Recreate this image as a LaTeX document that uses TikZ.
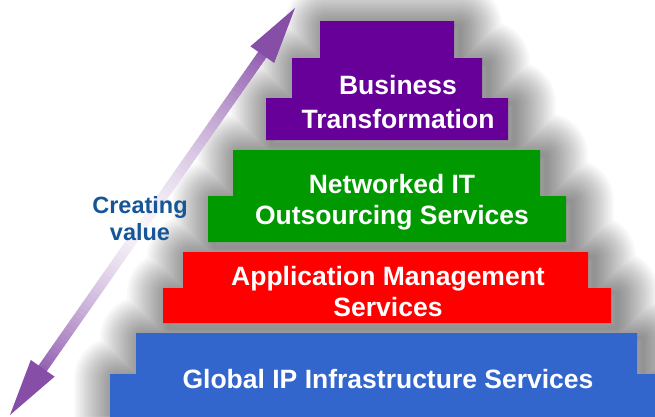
\documentclass[tikz,border=0pt]{standalone}
\usepackage{fontspec}
\setmainfont{Liberation Sans}
\definecolor{bizpurple}{RGB}{102,0,153}
\definecolor{netgreen}{RGB}{0,153,0}
\definecolor{appred}{RGB}{255,0,0}
\definecolor{ipblue}{RGB}{51,102,204}
\definecolor{valueblue}{RGB}{22,86,152}
\definecolor{arrowpurple}{RGB}{135,78,168}
% outline of all pyramid tiers, reused for the soft shadow
\newcommand\pyramidtiers{%
  (320,21) rectangle (454,58) (292,58) rectangle (482,98) (266,98) rectangle (508,140)
  (233,150) rectangle (540,196) (208,196) rectangle (566,242)
  (183,252) rectangle (588,288) (163,288) rectangle (611,323)
  (136,333) rectangle (637,374) (110,374) rectangle (670,420)}
\begin{document}
\begin{tikzpicture}[x=1pt,y=-1pt,
  blocktext/.style={text=white, font=\fontsize{26.5}{26.5}\selectfont\bfseries, anchor=base, inner sep=0pt},
  valuetext/.style={text=valueblue, font=\fontsize{23.5}{23.5}\selectfont\bfseries, anchor=base, inner sep=0pt},
  tier/.style={line join=miter}]
\useasboundingbox (0,0) rectangle (655,416);
\fill[white] (0,0) rectangle (655,416);

% soft shadow: stacked translucent strokes around the tiers
\foreach \w in {4,8,...,84} {
  \draw[black, opacity=0.024, line width=\w pt, line join=round, shift={(6,5)}] \pyramidtiers;
}

% double-headed "creating value" arrow, drawn along its own axis
\begin{scope}[shift={(10,415)}, rotate=55]
  \coordinate (lowtip) at (0,0);
  \coordinate (hightip) at (496.9,0);
  \foreach \i in {0,...,79} {
    \pgfmathsetmacro\sa{40+\i*5.2125}
    \pgfmathsetmacro\sb{\sa+5.8}
    \pgfmathsetmacro\sc{\sa+2.6}
    \pgfmathsetmacro\dd{abs(\sc-230)/ifthenelse(\sc>230,227,190)}
    \pgfmathsetmacro\pp{min(100,6+94*(\dd^1.4))}
    \fill[arrowpurple!\pp!white] (\sa,-5) rectangle (\sb,5);
  }
  \fill[arrowpurple] (lowtip) -- (57,14.5) -- (57,-14.5) -- cycle;
  \fill[arrowpurple] (hightip) -- (439.9,14.5) -- (439.9,-14.5) -- cycle;
\end{scope}

% pyramid tiers
\fill[bizpurple, tier] (266,140) -- (266,98) -- (292,98) -- (292,58) -- (320,58) -- (320,21)
  -- (454,21) -- (454,58) -- (482,58) -- (482,98) -- (508,98) -- (508,140) -- cycle;
\fill[netgreen, tier] (208,242) -- (208,196) -- (233,196) -- (233,150) -- (540,150)
  -- (540,196) -- (566,196) -- (566,242) -- cycle;
\fill[appred, tier] (163,323) -- (163,288) -- (183,288) -- (183,252) -- (588,252)
  -- (588,288) -- (611,288) -- (611,323) -- cycle;
\fill[ipblue, tier] (110,420) -- (110,374) -- (136,374) -- (136,333) -- (637,333)
  -- (637,374) -- (670,374) -- (670,420) -- cycle;

% tier labels
\node[blocktext] (biz1) at (398,94) {Business};
\node[blocktext] (biz2) at (398,128) {Transformation};
\node[blocktext] (net1) at (392,193) {Networked IT};
\node[blocktext] (net2) at (392,224) {Outsourcing Services};
\node[blocktext] (app1) at (388,285) {Application Management};
\node[blocktext] (app2) at (388,316) {Services};
\node[blocktext] (ip) at (388,388) {Global IP Infrastructure Services};

% arrow label
\node[valuetext] (cv1) at (140,213) {Creating};
\node[valuetext] (cv2) at (140,240) {value};
\end{tikzpicture}
\end{document}
